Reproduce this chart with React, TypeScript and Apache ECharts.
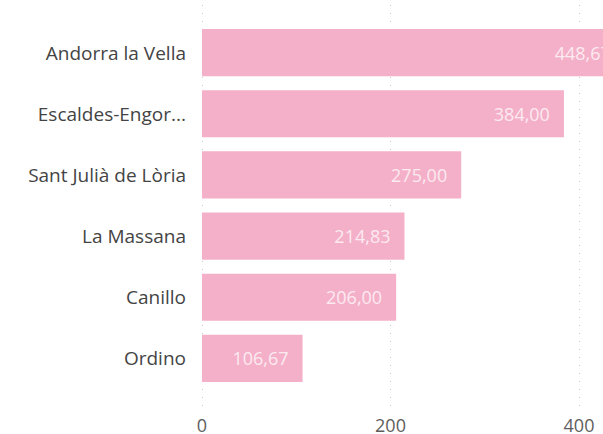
import React, { useEffect, useRef } from "react";
import * as echarts from "echarts";

const categories = ["Andorra la Vella", "Escaldes-Engordany", "Sant Julià de Lòria", "La Massana", "Canillo", "Ordino"];
const categoryTickLabels = ["Andorra la Vella", "Escaldes-Engor...", "Sant Julià de Lòria", "La Massana", "Canillo", "Ordino"];
const values = [448.67, 384.0, 275.0, 214.83, 206.0, 106.67];
const xMin = 0;
const xMax = 600;
const xInterval = 200;

const FONT = "'Open Sans', 'Noto Sans', sans-serif";

export default function App() {
  const ref = useRef<HTMLDivElement>(null);
  useEffect(() => {
    document.body.style.margin = "0";
    const chart = echarts.init(ref.current!, null, { renderer: "svg" });
    chart.setOption({
      animation: false,
      grid: [
        { left: 202, width: 565.5, top: 22, height: 367, outerBoundsMode: "none", containLabel: false },
        { left: 202, width: 565.5, top: 5, height: 403, outerBoundsMode: "none", containLabel: false },
      ],
      xAxis: [
        { gridIndex: 0, type: "value", min: xMin, max: xMax, interval: xInterval, show: false },
        {
          gridIndex: 1,
          type: "value",
          min: xMin,
          max: xMax,
          interval: xInterval,
          axisLine: { show: false },
          axisTick: { show: false },
          axisLabel: { color: "#605E5C", fontSize: 18, fontFamily: FONT, margin: 8 },
          splitLine: { show: true, lineStyle: { color: "#c8c8c8", type: [1, 7], width: 1 } },
        },
      ],
      yAxis: [
        {
          gridIndex: 0,
          type: "category",
          data: categories,
          inverse: true,
          axisLine: { show: false },
          axisTick: { show: false },
          splitLine: { show: false },
          axisLabel: {
            color: "#444444",
            fontSize: 19,
            fontFamily: FONT,
            margin: 16,
            formatter: (v: string, i: number) => categoryTickLabels[i] ?? v,
          },
        },
        { gridIndex: 1, type: "value", show: false },
      ],
      series: [
        {
          type: "bar",
          xAxisIndex: 0,
          yAxisIndex: 0,
          data: values,
          barCategoryGap: "23%",
          itemStyle: { color: "#F4B0C8" },
          label: {
            show: true,
            position: "insideRight",
            distance: 14,
            color: "#FCEAF1",
            fontSize: 18,
            fontFamily: FONT,
            formatter: (p: any) => Number(p.value).toFixed(2).replace(".", ","),
          },
        },
      ],
    });
    return () => chart.dispose();
  }, []);
  return <div ref={ref} style={{ width: 603, height: 434 }} />;
}
